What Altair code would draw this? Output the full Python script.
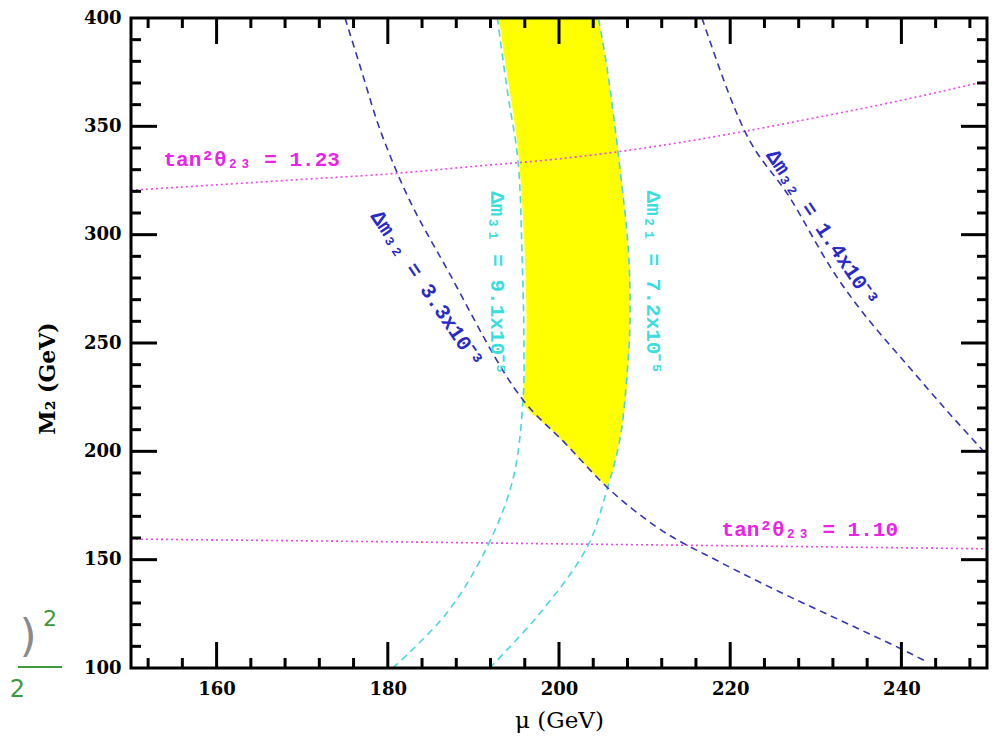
import altair as alt
import pandas as pd

# ---------------- data ----------------
# tan^2 theta23 = 1.23 (magenta dotted)
tan123_mu = [150, 160, 170, 180, 190, 200, 210, 220, 230, 240, 250]
tan123_m2 = [320.5, 323, 325.5, 328, 331.5, 335, 340, 346.5, 354, 362, 371]
# tan^2 theta23 = 1.10 (magenta dotted)
tan110_mu = [150, 175, 200, 225, 250]
tan110_m2 = [159.5, 158.5, 157.3, 156.2, 155.0]
# Delta m32 = 3.3e-3 (blue dashed)
dm33_mu = [175.0, 176.9, 178.7, 181.1, 187.3, 195.8, 200.7, 205.6, 211.4, 218.8, 225.8, 234.0, 240.7, 242.8]
dm33_m2 = [400.0, 376.0, 352.9, 328.5, 281.4, 223.7, 203.8, 183.5, 165.1, 148.9, 135.1, 119.9, 107.4, 103.2]
# Delta m32 = 1.4e-3 (blue dashed)
dm14_mu = [216.7, 221.7, 227.0, 231.7, 242.2, 250.0]
dm14_m2 = [400.0, 347.8, 316.9, 285.1, 232.9, 198.3]
# Delta m21 = 9.1e-5 (cyan dashed)
dm91_mu = [180.6, 186.9, 191.6, 194.6, 195.8, 195.9, 195.7, 195.2, 194.0, 192.8]
dm91_m2 = [100.0, 125.4, 155.9, 186.8, 223.7, 251.4, 288.3, 334.5, 365.4, 400.0]
# Delta m21 = 7.2e-5 (cyan dashed)
dm72_mu = [191.9, 197.8, 203.3, 205.6, 207.1, 207.9, 208.3, 208.1, 207.1, 205.6, 204.6]
dm72_m2 = [100.0, 125.4, 155.9, 182.2, 205.2, 232.9, 260.6, 292.9, 331.2, 377.4, 400.0]
# allowed (yellow) region: M2 levels with left / right mu edges
region_m2 = [183.5, 190, 200, 210, 223.7, 240, 260, 280, 300, 320, 340, 360, 380, 400]
region_left = [205.6, 204.0, 201.6, 199.1, 195.8, 196.1, 196.2, 196.1, 195.9, 195.6, 195.2, 194.5, 193.7, 193.0]
region_right = [205.6, 206.2, 206.8, 207.3, 207.8, 208.1, 208.3, 208.3, 207.9, 207.5, 206.9, 206.2, 205.5, 204.6]

# in-plot labels
label_text = ["tan²θ₂₃ = 1.23", "tan²θ₂₃ = 1.10", "Δm₃₂ = 3.3x10⁻³", "Δm₃₂ = 1.4x10⁻³",
              "Δm₃₁ = 9.1x10⁻⁵", "Δm₂₁ = 7.2x10⁻⁵"]
label_mu = [164.1, 229.3, 184.5, 230.7, 192.8, 211.0]
label_m2 = [334.5, 163.7, 274.9, 303.1, 277.7, 278.0]
label_angle = [0, 0, 56, 56, 90, 90]
label_color = ["#ea22ea", "#ea22ea", "#2a2ac8", "#2a2ac8", "#3adede", "#3adede"]

# ticks
x_major = [160, 180, 200, 220, 240]
x_minor = [152, 156, 164, 168, 172, 176, 184, 188, 192, 196, 204, 208, 212, 216,
           224, 228, 232, 236, 244, 248]
y_major = [150, 200, 250, 300, 350]
y_minor = [110, 120, 130, 140, 160, 170, 180, 190, 210, 220, 230, 240, 260, 270, 280, 290,
           310, 320, 330, 340, 360, 370, 380, 390]
x_labels = [160, 180, 200, 220, 240]
y_labels = [100, 150, 200, 250, 300, 350, 400]

# ---------------- build tables ----------------
def curve(name, mus, m2s):
    return pd.DataFrame({"mu": mus, "m2": m2s, "curve": name, "idx": range(len(mus))})

blue = pd.concat([curve("a", dm33_mu, dm33_m2), curve("b", dm14_mu, dm14_m2)])
cyan = pd.concat([curve("c", dm91_mu, dm91_m2), curve("d", dm72_mu, dm72_m2)])
mag = pd.concat([curve("e", tan123_mu, tan123_m2), curve("f", tan110_mu, tan110_m2)])
region = pd.DataFrame({"m2": region_m2, "left": region_left, "right": region_right})
labels = pd.DataFrame({"text": label_text, "mu": label_mu, "m2": label_m2,
                       "angle": label_angle, "color": label_color})

W, H = 856, 650
xs = alt.Scale(domain=[150, 250], nice=False, zero=False)
ys = alt.Scale(domain=[100, 400], nice=False, zero=False)
TICKFONT = "DejaVu Serif"

x_axis = alt.Axis(values=x_labels, title="μ (GeV)", grid=False, ticks=False, tickSize=0,
                  domain=False, labelFont=TICKFONT, labelFontSize=18, labelFontWeight="bold",
                  labelColor="black", labelPadding=12, titleFont="DejaVu Serif",
                  titleFontSize=23, titleFontWeight="normal", titleColor="black",
                  titleBaseline="middle", titleY=52, titleX=W / 2)
y_axis = alt.Axis(values=y_labels, title="M₂ (GeV)", grid=False, ticks=False, tickSize=0,
                  domain=False, labelFont=TICKFONT, labelFontSize=18, labelFontWeight="bold",
                  labelColor="black", labelPadding=10, titleFont="DejaVu Serif",
                  titleFontSize=22, titleFontWeight="bold", titleColor="black",
                  titleAngle=-90, titleBaseline="middle", titleAlign="center",
                  titleX=-84, titleY=360)


def X(field):
    return alt.X(field, scale=xs, axis=x_axis)


def Y(field):
    return alt.Y(field, scale=ys, axis=y_axis)


area = alt.Chart(region).mark_area(orient="horizontal", color="#ffff00", opacity=1, clip=True,
                                   interpolate="monotone").encode(
    y=Y("m2:Q"),
    x=X("left:Q"),
    x2="right:Q",
)


def lines(df, color, dash, interp, width=1.6):
    return alt.Chart(df).mark_line(color=color, strokeDash=dash, strokeWidth=width, clip=True,
                                   interpolate=interp).encode(
        x=X("mu:Q"),
        y=Y("m2:Q"),
        detail="curve:N",
        order="idx:Q",
    )


blue_l = lines(blue, "#3535b5", [7, 5], "monotone")
cyan_l = lines(cyan, "#4ad8e0", [7, 5], "catmull-rom")
mag_l = lines(mag, "#ee44ee", [2, 3], "monotone")

text = alt.Chart(labels).mark_text(font="Liberation Mono", fontSize=21, fontWeight="bold",
                                   align="center", baseline="middle").encode(
    x=X("mu:Q"),
    y=Y("m2:Q"),
    text="text:N",
    angle=alt.Angle("angle:Q", scale=None),
    color=alt.Color("color:N", scale=None),
)


def ticks_x(vals, length):
    d = pd.DataFrame({"v": vals})
    bot = alt.Chart(d).mark_rule(color="black", strokeWidth=3).encode(
        x=X("v:Q"), y=alt.value(H), y2=alt.value(H - length))
    top = alt.Chart(d).mark_rule(color="black", strokeWidth=3).encode(
        x=X("v:Q"), y=alt.value(0), y2=alt.value(length))
    return [bot, top]


def ticks_y(vals, length):
    d = pd.DataFrame({"v": vals})
    left = alt.Chart(d).mark_rule(color="black", strokeWidth=3).encode(
        y=Y("v:Q"), x=alt.value(0), x2=alt.value(length))
    right = alt.Chart(d).mark_rule(color="black", strokeWidth=3).encode(
        y=Y("v:Q"), x=alt.value(W), x2=alt.value(W - length))
    return [left, right]


tick_layers = ticks_x(x_major, 26) + ticks_x(x_minor, 10) + ticks_y(y_major, 26) + ticks_y(y_minor, 10)

one = pd.DataFrame({"a": [0]})
frame = alt.Chart(one).mark_rect(fill=None, stroke="black", strokeWidth=3).encode(
    x=alt.value(0), x2=alt.value(W), y=alt.value(0), y2=alt.value(H))

# fragment of a neighbouring figure visible at the lower-left corner
frag_paren = alt.Chart(one).mark_text(text=")", fontSize=44, color="#8a8a8a", font="DejaVu Sans",
                                      align="center", baseline="middle").encode(
    x=alt.value(-103), y=alt.value(620))
frag_sup = alt.Chart(one).mark_text(text="2", fontSize=22, color="#3d9a3d", font="DejaVu Sans",
                                    align="center", baseline="middle").encode(
    x=alt.value(-81), y=alt.value(601))
frag_bar = alt.Chart(one).mark_rule(color="#3d9a3d", strokeWidth=2).encode(
    x=alt.value(-113), x2=alt.value(-69), y=alt.value(649))
frag_low = alt.Chart(one).mark_text(text="2", fontSize=24, color="#3d9a3d", font="DejaVu Sans",
                                    align="right", baseline="middle").encode(
    x=alt.value(-106), y=alt.value(672))

chart = alt.layer(area, mag_l, cyan_l, blue_l, text, *tick_layers, frame,
                  frag_paren, frag_sup, frag_bar, frag_low).properties(
    width=W, height=H,
    autosize=alt.AutoSizeParams(type="none"),
    padding={"left": 131, "top": 18, "right": 8, "bottom": 87},
).configure_view(stroke=None).configure(background="white")

chart.save("out.html", embed_options={"renderer": "svg", "actions": False})
